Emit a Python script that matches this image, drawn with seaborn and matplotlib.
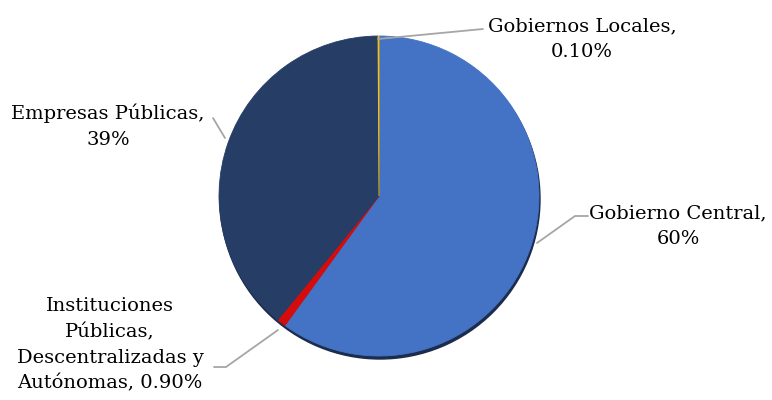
import matplotlib
matplotlib.use("Agg")
import matplotlib.pyplot as plt
import seaborn as sns

# datos del gráfico
categorias = ["Gobierno Central",
              "Instituciones\nPúblicas,\nDescentralizadas y\nAutónomas",
              "Empresas Públicas",
              "Gobiernos Locales"]
valores = [60, 0.9, 39, 0.1]
etiquetas_pct = ["60%", "0.90%", "39%", "0.10%"]
colores = ["#4472C4", "#D40C0C", "#263D66", "#FFC000"]

sns.set_theme(style="white")
plt.rcParams['font.family'] = ['DejaVu Serif', 'DejaVu Sans']

fig = plt.figure(figsize=(7.72, 4.0), dpi=100)
ax = fig.add_axes([0, 0, 1, 1])

# sombra inferior del pastel
sombra = plt.Circle((380, 199), 160, color="#1B2C4D", zorder=0)
ax.add_patch(sombra)

wedges, _ = ax.pie(valores, colors=colores, startangle=-90, counterclock=True,
                   center=(379, 196), radius=160,
                   wedgeprops=dict(linewidth=0.6))
for w, c in zip(wedges, colores):
    w.set_edgecolor(c)
    w.set_zorder(1)

ax.set_aspect('auto')
ax.set_xlim(0, 772)
ax.set_ylim(400, 0)
ax.axis('off')

gris = "#A6A6A6"
fs = 14
ls = 1.55

# etiquetas con líneas guía
ax.plot([378, 483], [39, 29], color=gris, lw=1.3, zorder=2)
ax.text(582, 39, f"{categorias[3]},\n{etiquetas_pct[3]}", ha='center', va='center',
        fontsize=fs, linespacing=ls, color="#000000")

ax.plot([537, 575, 588], [243, 216, 216], color=gris, lw=1.3, zorder=2)
ax.text(678, 226, f"{categorias[0]},\n{etiquetas_pct[0]}", ha='center', va='center',
        fontsize=fs, linespacing=ls, color="#000000")

ax.plot([213, 225], [118, 138], color=gris, lw=1.3, zorder=2)
ax.text(108, 126, f"{categorias[2]},\n{etiquetas_pct[2]}", ha='center', va='center',
        fontsize=fs, linespacing=ls, color="#000000")

ax.plot([278, 226, 214], [330, 367, 367], color=gris, lw=1.3, zorder=2)
ax.text(110, 345, f"{categorias[1]}, {etiquetas_pct[1]}", ha='center', va='center',
        fontsize=fs, linespacing=ls, color="#000000")

fig.savefig("out.png", dpi=100)
